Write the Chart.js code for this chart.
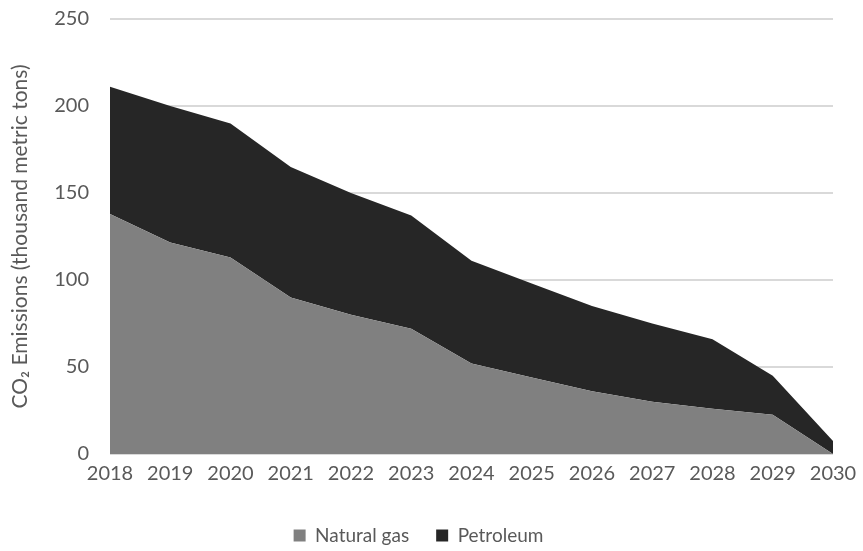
<!DOCTYPE html>
<html>
<head>
<meta charset="utf-8">
<script src="https://cdn.jsdelivr.net/npm/chart.js@4.4.0/dist/chart.umd.min.js"></script>
<style>
  html, body { margin: 0; padding: 0; background: #fff; }
  #wrap { width: 863px; height: 551px; position: relative; }
</style>
</head>
<body>
<div id="wrap"><canvas id="chart" width="863" height="551"></canvas></div>
<script>
const years = ['2018', '2019', '2020', '2021', '2022', '2023', '2024', '2025', '2026', '2027', '2028', '2029', '2030'];
const naturalGas = [138, 121.5, 113, 90, 80, 72, 52, 44, 36, 30, 26, 22.5, 0];
const petroleum = [73, 78.5, 77, 75, 70, 65, 59, 54, 49, 45, 40, 22.5, 7.5];
const yTicks = [0, 50, 100, 150, 200, 250];

const textColor = '#595959';
const font = { family: 'Lato, "Open Sans", sans-serif', size: 20 };

new Chart(document.getElementById('chart'), {
    type: 'line',
    data: {
        labels: years,
        datasets: [
            { label: 'Natural gas', data: naturalGas, backgroundColor: '#808080', borderWidth: 0, pointRadius: 0, fill: 'origin', tension: 0 },
            { label: 'Petroleum', data: petroleum, backgroundColor: '#262626', borderWidth: 0, pointRadius: 0, fill: '-1', tension: 0 }
        ]
    },
    options: {
        responsive: false,
        animation: false,
        layout: { padding: { left: 4, right: 30, top: 19, bottom: -4 } },
        scales: {
            x: {
                offset: false,
                grid: { display: false },
                border: { display: false },
                ticks: { color: textColor, font, maxRotation: 0, padding: 0 },
                afterFit: axis => { axis.height += 13; }
            },
            y: {
                stacked: true,
                min: 0, max: 250,
                afterBuildTicks: axis => { axis.ticks = yTicks.map(v => ({ value: v })); },
                afterFit: axis => { axis.paddingTop = 0; axis.paddingBottom = 0; },
                grid: { color: '#d9d9d9', lineWidth: 2, drawTicks: false },
                border: { display: false },
                ticks: { color: textColor, font, padding: 21 },
                title: { display: true, text: 'CO\u2082 Emissions (thousand metric tons)', color: textColor, font: { family: font.family, size: 21 }, padding: { top: 4, bottom: 0 } }
            }
        },
        plugins: {
            legend: {
                position: 'bottom',
                labels: { color: textColor, font: { family: font.family, size: 19 }, boxWidth: 12, boxHeight: 12, padding: 27 }
            },
            tooltip: { enabled: false }
        }
    }
});
</script>
</body>
</html>
